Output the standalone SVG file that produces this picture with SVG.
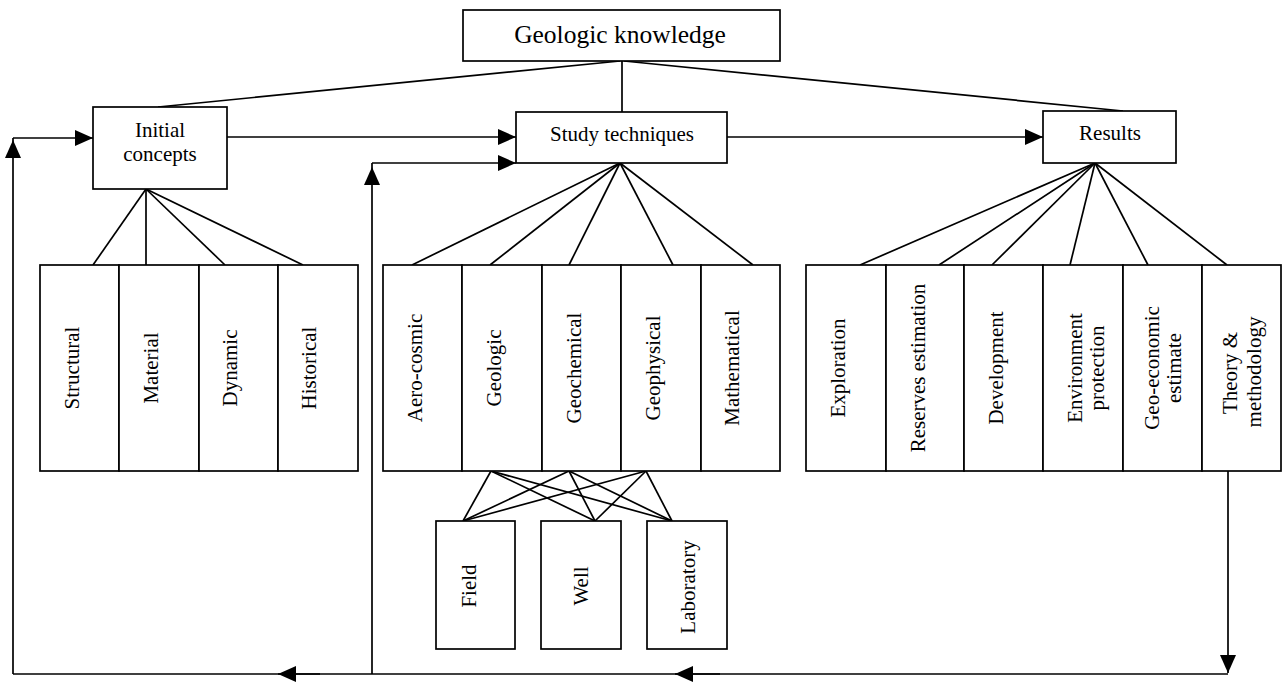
<svg xmlns="http://www.w3.org/2000/svg" width="1284" height="687" viewBox="0 0 1284 687">
<defs>
<marker id="ah" viewBox="0 0 18 16" refX="18" refY="8" markerWidth="18" markerHeight="16" markerUnits="userSpaceOnUse" orient="auto">
<path d="M0,0 L18,8 L0,16 z" fill="#000"/>
</marker>
<style>
rect{fill:#fff;stroke:#000;stroke-width:1.7}
text{font-family:"Liberation Serif","Times New Roman",serif;font-size:21px;fill:#000}
.c{text-anchor:middle}
.big{font-size:25.5px}
#connectors path,#connectors line{fill:none;stroke:#000;stroke-width:1.7}
.arr{marker-end:url(#ah)}
</style>
</defs>
<rect x="0" y="0" width="1284" height="687" style="fill:#fff;stroke:none"/>

<g id="connectors">
<line x1="620" y1="61" x2="158" y2="107"/>
<line x1="622" y1="61" x2="622" y2="112"/>
<line x1="624" y1="61" x2="1123" y2="111"/>
<path class="arr" d="M227,137 H516"/>
<path class="arr" d="M727,137 H1043"/>
<path class="arr" d="M13,674 V140"/>
<path class="arr" d="M13,138 H93"/>
<path class="arr" d="M372,674 V167"/>
<path class="arr" d="M372,163 H516"/>
<path d="M13,140 V138 M372,167 V163"/>
<path class="arr" d="M1228,471 V673"/>
<path d="M1228,674 H13"/>
<path class="arr" d="M720,674 H675"/>
<path class="arr" d="M320,674 H278"/>
<line x1="146" y1="189" x2="93" y2="265"/>
<line x1="146" y1="189" x2="146" y2="265"/>
<line x1="146" y1="189" x2="225" y2="265"/>
<line x1="146" y1="189" x2="303" y2="265"/>
<line x1="620" y1="163" x2="412" y2="265"/>
<line x1="620" y1="163" x2="490" y2="265"/>
<line x1="620" y1="163" x2="569" y2="265"/>
<line x1="620" y1="163" x2="673" y2="265"/>
<line x1="620" y1="163" x2="753" y2="265"/>
<line x1="1095" y1="163" x2="860" y2="265"/>
<line x1="1095" y1="163" x2="939" y2="265"/>
<line x1="1095" y1="163" x2="992" y2="265"/>
<line x1="1095" y1="163" x2="1070" y2="265"/>
<line x1="1095" y1="163" x2="1148" y2="265"/>
<line x1="1095" y1="163" x2="1227" y2="265"/>
<line x1="491" y1="471" x2="463" y2="521"/>
<line x1="491" y1="471" x2="595" y2="521"/>
<line x1="491" y1="471" x2="672" y2="521"/>
<line x1="569" y1="471" x2="463" y2="521"/>
<line x1="569" y1="471" x2="595" y2="521"/>
<line x1="569" y1="471" x2="672" y2="521"/>
<line x1="646" y1="471" x2="463" y2="521"/>
<line x1="646" y1="471" x2="595" y2="521"/>
<line x1="646" y1="471" x2="672" y2="521"/>
</g>

<g id="geologic-knowledge"><rect x="463" y="10" width="317" height="51"/><text class="c big" x="620" y="43">Geologic knowledge</text></g>
<g id="initial-concepts"><rect x="93" y="107" width="134" height="82"/><text class="c" x="160" y="137">Initial</text><text class="c" x="160" y="161">concepts</text></g>
<g id="study-techniques"><rect x="516" y="112" width="211" height="51"/><text class="c" x="622" y="141">Study techniques</text></g>
<g id="results"><rect x="1043" y="111" width="133" height="52"/><text class="c" x="1110" y="140">Results</text></g>

<g id="structural"><rect x="40" y="265" width="79" height="206"/><text class="c" transform="translate(79,368) rotate(-90)">Structural</text></g>
<g id="material"><rect x="119" y="265" width="80" height="206"/><text class="c" transform="translate(158,368) rotate(-90)">Material</text></g>
<g id="dynamic"><rect x="199" y="265" width="79" height="206"/><text class="c" transform="translate(237,368) rotate(-90)">Dynamic</text></g>
<g id="historical"><rect x="278" y="265" width="80" height="206"/><text class="c" transform="translate(316,368) rotate(-90)">Historical</text></g>

<g id="aero-cosmic"><rect x="383" y="265" width="79" height="206"/><text class="c" transform="translate(422,368) rotate(-90)">Aero-cosmic</text></g>
<g id="geologic"><rect x="462" y="265" width="80" height="206"/><text class="c" transform="translate(501,368) rotate(-90)">Geologic</text></g>
<g id="geochemical"><rect x="542" y="265" width="79" height="206"/><text class="c" transform="translate(581,368) rotate(-90)">Geochemical</text></g>
<g id="geophysical"><rect x="621" y="265" width="80" height="206"/><text class="c" transform="translate(660,368) rotate(-90)">Geophysical</text></g>
<g id="mathematical"><rect x="701" y="265" width="79" height="206"/><text class="c" transform="translate(739,368) rotate(-90)">Mathematical</text></g>

<g id="exploration"><rect x="806" y="265" width="80" height="206"/><text class="c" transform="translate(845,368) rotate(-90)">Exploration</text></g>
<g id="reserves-estimation"><rect x="886" y="265" width="78" height="206"/><text class="c" transform="translate(925,368) rotate(-90)">Reserves estimation</text></g>
<g id="development"><rect x="964" y="265" width="79" height="206"/><text class="c" transform="translate(1003,368) rotate(-90)">Development</text></g>
<g id="environment-protection"><rect x="1043" y="265" width="80" height="206"/><text class="c" transform="translate(1082,368) rotate(-90)">Environment</text><text class="c" transform="translate(1104,368) rotate(-90)">protection</text></g>
<g id="geo-economic-estimate"><rect x="1123" y="265" width="79" height="206"/><text class="c" transform="translate(1159,368) rotate(-90)">Geo-economic</text><text class="c" transform="translate(1181,368) rotate(-90)">estimate</text></g>
<g id="theory-methodology"><rect x="1202" y="265" width="79" height="206"/><text class="c" transform="translate(1237,373) rotate(-90)">Theory &amp;</text><text class="c" transform="translate(1261,372) rotate(-90)">methodology</text></g>

<g id="field"><rect x="436" y="521" width="79" height="128"/><text class="c" transform="translate(476,586) rotate(-90)">Field</text></g>
<g id="well"><rect x="541" y="521" width="80" height="128"/><text class="c" transform="translate(588,586) rotate(-90)">Well</text></g>
<g id="laboratory"><rect x="647" y="521" width="80" height="128"/><text class="c" transform="translate(695,587) rotate(-90)">Laboratory</text></g>
</svg>
